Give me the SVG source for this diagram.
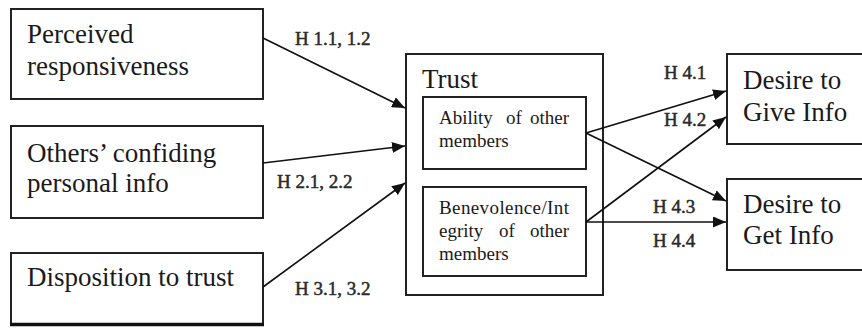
<svg xmlns="http://www.w3.org/2000/svg" width="862" height="329" viewBox="0 0 862 329">
  <defs>
    <marker id="arrow" markerUnits="userSpaceOnUse" markerWidth="13" markerHeight="11" refX="13" refY="5.5" orient="auto">
      <path d="M0,0 L13,5.5 L0,11 z" fill="#111"/>
    </marker>
  </defs>
  <style>
    .box { fill: #fff; stroke: #222; stroke-width: 2; }
    .big { font-family: "Liberation Serif", "Times New Roman", serif; font-size: 27px; fill: #1a1a1a; }
    .small { font-family: "Liberation Serif", "Times New Roman", serif; font-size: 19px; fill: #1a1a1a; }
    .lbl { font-family: "Liberation Serif", "Times New Roman", serif; font-size: 19px; fill: #2a2a2a; stroke: #2a2a2a; stroke-width: 0.5; }
    .conn line { stroke: #111; stroke-width: 1.6; fill: none; marker-end: url(#arrow); }
  </style>
  <rect width="862" height="329" fill="#fff"/>

  <!-- antecedents -->
  <g id="perceived">
    <rect class="box" x="11" y="9" width="252" height="90"/>
    <text class="big" x="27" y="43">Perceived</text>
    <text class="big" x="27" y="75">responsiveness</text>
  </g>
  <g id="confiding">
    <rect class="box" x="11" y="126" width="252" height="92"/>
    <text class="big" x="27" y="162">Others’ confiding</text>
    <text class="big" x="27" y="192">personal info</text>
  </g>
  <g id="disposition">
    <rect class="box" x="11" y="253" width="252" height="71"/>
    <line x1="10" y1="324.5" x2="264" y2="324.5" stroke="#111" stroke-width="3.5"/>
    <text class="big" x="27" y="286">Disposition to trust</text>
  </g>

  <!-- trust construct with its two dimensions -->
  <g id="trust">
    <rect class="box" x="406" y="54" width="197" height="241"/>
    <text class="big" x="422" y="88">Trust</text>
  </g>
  <g id="ability">
    <rect class="box" x="423" y="97" width="163" height="72"/>
    <text class="small" y="124"><tspan x="439">Ability</tspan><tspan x="506">of</tspan><tspan x="569" text-anchor="end">other</tspan></text>
    <text class="small" x="439" y="147">members</text>
  </g>
  <g id="benevolence">
    <rect class="box" x="423" y="187" width="163" height="89"/>
    <text class="small" x="439" y="214" textLength="130" lengthAdjust="spacing">Benevolence/Int</text>
    <text class="small" y="237"><tspan x="439">egrity</tspan><tspan x="499">of</tspan><tspan x="569" text-anchor="end">other</tspan></text>
    <text class="small" x="439" y="260">members</text>
  </g>

  <!-- outcomes -->
  <g id="give-info">
    <rect class="box" x="727" y="54" width="140" height="90"/>
    <text class="big" x="743" y="89">Desire to</text>
    <text class="big" x="743" y="121">Give Info</text>
  </g>
  <g id="get-info">
    <rect class="box" x="727" y="179" width="140" height="91"/>
    <text class="big" x="743" y="213">Desire to</text>
    <text class="big" x="743" y="244">Get Info</text>
  </g>

  <!-- hypothesised paths -->
  <g id="connectors" class="conn">
    <line x1="263" y1="38" x2="405" y2="108"/>
    <line x1="263" y1="163" x2="405" y2="146"/>
    <line x1="263" y1="287" x2="405" y2="183"/>
    <line x1="586" y1="133" x2="726" y2="91"/>
    <line x1="586" y1="133" x2="726" y2="201"/>
    <line x1="586" y1="222" x2="726" y2="117"/>
    <line x1="586" y1="222" x2="726" y2="222"/>
  </g>

  <g id="labels">
    <text class="lbl" x="295" y="45">H 1.1, 1.2</text>
    <text class="lbl" x="277" y="188">H 2.1, 2.2</text>
    <text class="lbl" x="295" y="295">H 3.1, 3.2</text>
    <text class="lbl" x="664" y="79">H 4.1</text>
    <text class="lbl" x="664" y="126">H 4.2</text>
    <text class="lbl" x="653" y="213">H 4.3</text>
    <text class="lbl" x="653" y="247">H 4.4</text>
  </g>
</svg>
